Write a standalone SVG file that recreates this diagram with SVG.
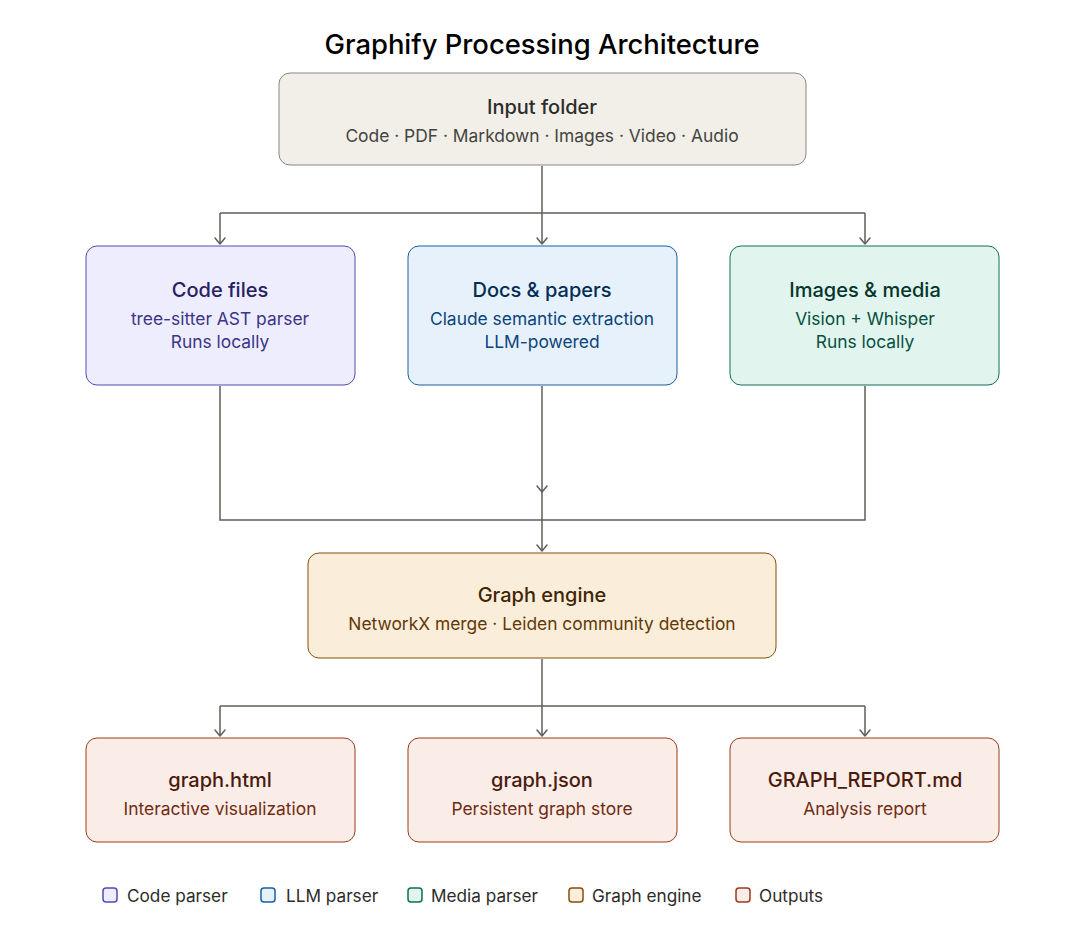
<svg xmlns="http://www.w3.org/2000/svg" width="1080" height="928" viewBox="0 0 1080 928">
<defs>
<marker id="arr" viewBox="0 0 12 12" refX="11" refY="6" markerWidth="12" markerHeight="12" markerUnits="userSpaceOnUse" orient="auto">
<path d="M5 1 L11 6 L5 11" fill="none" stroke="#5f5e5a" stroke-width="1.5" stroke-linecap="round" stroke-linejoin="round"/>
</marker>
<style>
text{font-family:Inter,"Liberation Sans",sans-serif;text-anchor:middle}
.t{font-size:20px;font-weight:500}
.s{font-size:17.4px}
.c{fill:none;stroke:#5f5e5a;stroke-width:1.5}
.lg{font-size:17.2px;text-anchor:start;fill:#2c2c2a}
</style>
</defs>
<rect width="1080" height="928" fill="#ffffff"/>
<text x="542" y="54" font-size="27.4" font-weight="500" fill="#000">Graphify Processing Architecture</text>

<g id="connectors">
<path class="c" d="M542 166 V244" marker-end="url(#arr)"/>
<path class="c" d="M220 213 H865"/>
<path class="c" d="M220 213 V244" marker-end="url(#arr)"/>
<path class="c" d="M865 213 V244" marker-end="url(#arr)"/>
<path class="c" d="M220 386 V520 H865 V386"/>
<path class="c" d="M542 386 V492" marker-end="url(#arr)"/>
<path class="c" d="M542 492 V551" marker-end="url(#arr)"/>
<path class="c" d="M542 659 V736" marker-end="url(#arr)"/>
<path class="c" d="M220 706 H865"/>
<path class="c" d="M220 706 V736" marker-end="url(#arr)"/>
<path class="c" d="M865 706 V736" marker-end="url(#arr)"/>
</g>

<g id="input">
<rect x="279" y="73" width="527" height="92" rx="11" fill="#f1efe8" stroke="#888780" stroke-width="1"/>
<text x="542" y="114" class="t" fill="#2c2c2a">Input folder</text>
<text x="542" y="142" class="s" fill="#444441">Code · PDF · Markdown · Images · Video · Audio</text>
</g>

<g id="code">
<rect x="86" y="246" width="269" height="139" rx="11" fill="#eeedfe" stroke="#534ab7" stroke-width="1"/>
<text x="220" y="297" class="t" fill="#26215c">Code files</text>
<text x="220" y="325" class="s" fill="#3c3489">tree-sitter AST parser</text>
<text x="220" y="348" class="s" fill="#3c3489">Runs locally</text>
</g>

<g id="docs">
<rect x="408" y="246" width="269" height="139" rx="11" fill="#e6f1fb" stroke="#185fa5" stroke-width="1"/>
<text x="542" y="297" class="t" fill="#042c53">Docs &amp; papers</text>
<text x="542" y="325" class="s" fill="#0c447c">Claude semantic extraction</text>
<text x="542" y="348" class="s" fill="#0c447c">LLM-powered</text>
</g>

<g id="media">
<rect x="730" y="246" width="269" height="139" rx="11" fill="#e1f5ee" stroke="#0f6e56" stroke-width="1"/>
<text x="865" y="297" class="t" fill="#04342c">Images &amp; media</text>
<text x="865" y="325" class="s" fill="#085041">Vision + Whisper</text>
<text x="865" y="348" class="s" fill="#085041">Runs locally</text>
</g>

<g id="engine">
<rect x="308" y="553" width="468" height="105" rx="11" fill="#faeeda" stroke="#854f0b" stroke-width="1"/>
<text x="542" y="602" class="t" fill="#412402">Graph engine</text>
<text x="542" y="630" class="s" fill="#633806">NetworkX merge · Leiden community detection</text>
</g>

<g id="html">
<rect x="86" y="738" width="269" height="104" rx="11" fill="#faece7" stroke="#993c1d" stroke-width="1"/>
<text x="220" y="787" class="t" fill="#4a1b0c">graph.html</text>
<text x="220" y="815" class="s" fill="#712b13">Interactive visualization</text>
</g>

<g id="json">
<rect x="408" y="738" width="269" height="104" rx="11" fill="#faece7" stroke="#993c1d" stroke-width="1"/>
<text x="542" y="787" class="t" fill="#4a1b0c">graph.json</text>
<text x="542" y="815" class="s" fill="#712b13">Persistent graph store</text>
</g>

<g id="report">
<rect x="730" y="738" width="269" height="104" rx="11" fill="#faece7" stroke="#993c1d" stroke-width="1"/>
<text x="865" y="787" class="t" fill="#4a1b0c">GRAPH_REPORT.md</text>
<text x="865" y="815" class="s" fill="#712b13">Analysis report</text>
</g>

<g id="legend">
<rect x="103" y="888" width="14" height="14" rx="3" fill="#eeedfe" stroke="#534ab7" stroke-width="1.5"/>
<text x="127" y="902" class="lg">Code parser</text>
<rect x="261" y="888" width="14" height="14" rx="3" fill="#e6f1fb" stroke="#185fa5" stroke-width="1.5"/>
<text x="286" y="902" class="lg">LLM parser</text>
<rect x="408" y="888" width="14" height="14" rx="3" fill="#e1f5ee" stroke="#0f6e56" stroke-width="1.5"/>
<text x="431" y="902" class="lg">Media parser</text>
<rect x="569" y="888" width="14" height="14" rx="3" fill="#faeeda" stroke="#854f0b" stroke-width="1.5"/>
<text x="592" y="902" class="lg">Graph engine</text>
<rect x="736" y="888" width="14" height="14" rx="3" fill="#faece7" stroke="#993c1d" stroke-width="1.5"/>
<text x="759" y="902" class="lg">Outputs</text>
</g>
</svg>
